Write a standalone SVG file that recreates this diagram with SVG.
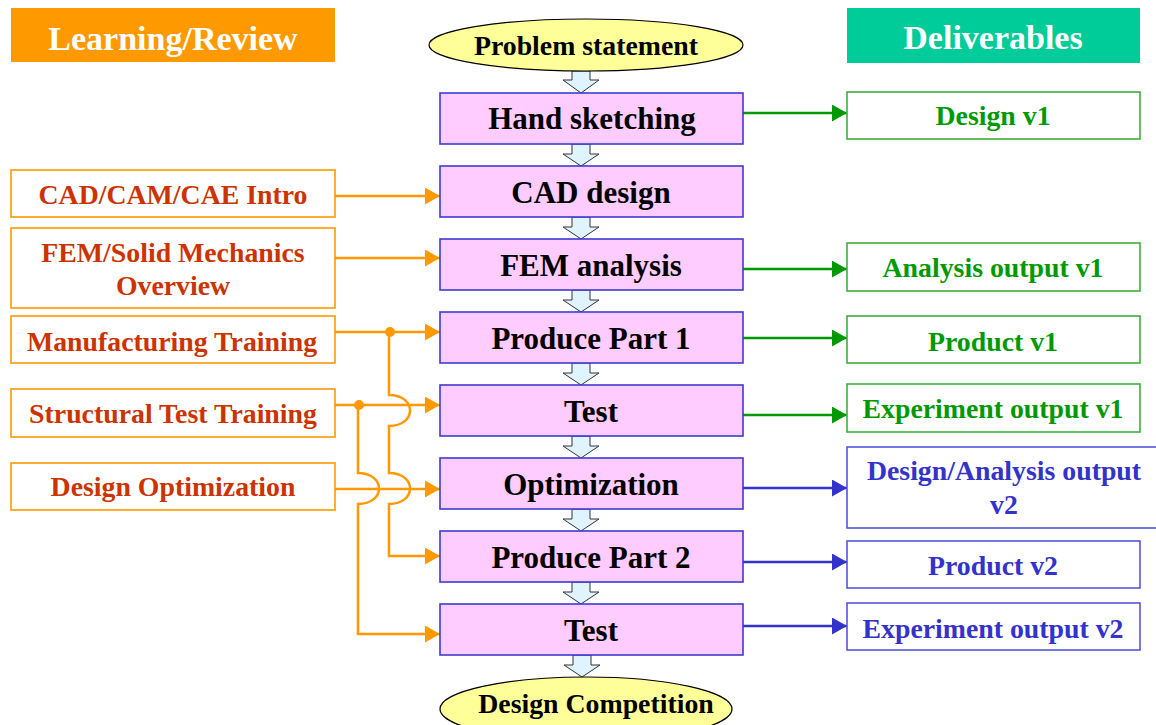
<svg xmlns="http://www.w3.org/2000/svg" width="1156" height="725" viewBox="0 0 1156 725">
<defs>
<style>
text{font-family:"Liberation Serif","Times New Roman",serif;font-weight:bold;text-anchor:middle}
.hdr{font-size:34px;fill:#FFFFFF}
.mid rect{fill:#FFCCFF;stroke:#3B3BD0;stroke-width:1.6}
.mid text{font-size:31px;fill:#000}
.ell ellipse{fill:#FFFF99;stroke:#000;stroke-width:1.2}
.ell text{font-size:27.8px;fill:#000}
.lft rect{fill:#FFF;stroke:#FF9900;stroke-width:1.6}
.lft text{font-size:27.8px;fill:#CC3300}
.gr rect{fill:#FFF;stroke:#3DB03D;stroke-width:1.6}
.gr text{font-size:27.8px;fill:#009900}
.bl rect{fill:#FFF;stroke:#5555DD;stroke-width:1.6}
.bl text{font-size:27.8px;fill:#3333CC}
.blk{fill:#E0F4FF;stroke:#333;stroke-width:1}
.og{fill:none;stroke:#FF9900;stroke-width:2.5}
.gl{fill:none;stroke:#009900;stroke-width:2.5}
.bline{fill:none;stroke:#3333CC;stroke-width:2.5}
</style>
<marker id="ao" markerUnits="userSpaceOnUse" markerWidth="16" markerHeight="18" refX="15" refY="8.5" orient="auto"><path d="M0,0 L15,8.5 L0,17 Z" fill="#FF9900"/></marker>
<marker id="ag" markerUnits="userSpaceOnUse" markerWidth="16" markerHeight="18" refX="15" refY="8.5" orient="auto"><path d="M0,0 L15,8.5 L0,17 Z" fill="#009900"/></marker>
<marker id="ab" markerUnits="userSpaceOnUse" markerWidth="16" markerHeight="18" refX="15" refY="8.5" orient="auto"><path d="M0,0 L15,8.5 L0,17 Z" fill="#3333CC"/></marker>
</defs>

<g id="header-learning"><rect x="11" y="8" width="324" height="54" fill="#FF9900"/><text class="hdr" x="173" y="50">Learning/Review</text></g>
<g id="header-deliverables"><rect x="847" y="8" width="293" height="55" fill="#00CC99"/><text class="hdr" x="993" y="49">Deliverables</text></g>

<g id="connectors">
<g id="flow-arrows">
<path class="blk" d="M572,71 V80 H563 L581,93 L599,80 H590 V71 Z"/>
<path class="blk" d="M572,144 V154 H563 L581,166 L599,154 H590 V144 Z"/>
<path class="blk" d="M572,217 V227 H563 L581,239 L599,227 H590 V217 Z"/>
<path class="blk" d="M572,290 V300 H563 L581,312 L599,300 H590 V290 Z"/>
<path class="blk" d="M572,363 V373 H563 L581,385 L599,373 H590 V363 Z"/>
<path class="blk" d="M572,436 V446 H563 L581,458 L599,446 H590 V436 Z"/>
<path class="blk" d="M572,509 V519 H563 L581,531 L599,519 H590 V509 Z"/>
<path class="blk" d="M572,582 V592 H563 L581,604 L599,592 H590 V582 Z"/>
<path class="blk" d="M573,655 V665 H564 L582,677 L600,665 H591 V655 Z"/>
</g>
<g id="learning-links">
<path class="og" d="M335,196 H440" marker-end="url(#ao)"/>
<path class="og" d="M335,258 H440" marker-end="url(#ao)"/>
<path class="og" d="M335,332 H440" marker-end="url(#ao)"/>
<path class="og" d="M335,405 H440" marker-end="url(#ao)"/>
<path class="og" d="M335,489 H440" marker-end="url(#ao)"/>
<path class="og" d="M389,332 V395 C417,395 417,426 389,426 V473 C417,473 417,504 389,504 V556 H440" marker-end="url(#ao)"/>
<path class="og" d="M358,405 V473 C386,473 386,504 358,504 V634 H440" marker-end="url(#ao)"/>
<circle cx="390" cy="332" r="5" fill="#FF9900"/>
<circle cx="359" cy="405" r="5" fill="#FF9900"/>
</g>
<g id="deliverable-links">
<path class="gl" d="M743,113 H847" marker-end="url(#ag)"/>
<path class="gl" d="M743,269 H847" marker-end="url(#ag)"/>
<path class="gl" d="M743,338 H847" marker-end="url(#ag)"/>
<path class="gl" d="M743,415 H847" marker-end="url(#ag)"/>
<path class="bline" d="M743,488 H847" marker-end="url(#ab)"/>
<path class="bline" d="M743,562 H847" marker-end="url(#ab)"/>
<path class="bline" d="M743,626 H847" marker-end="url(#ab)"/>
</g>
</g>

<g id="problem-statement" class="ell"><ellipse cx="586" cy="45" rx="157" ry="26"/><text x="586" y="55">Problem statement</text></g>
<g id="hand-sketching" class="mid"><rect x="440" y="93" width="303" height="51"/><text x="592" y="129">Hand sketching</text></g>
<g id="cad-design" class="mid"><rect x="440" y="166" width="303" height="51"/><text x="591" y="203">CAD design</text></g>
<g id="fem-analysis" class="mid"><rect x="440" y="239" width="303" height="51"/><text x="591" y="276">FEM analysis</text></g>
<g id="produce-part-1" class="mid"><rect x="440" y="312" width="303" height="51"/><text x="591" y="349">Produce Part 1</text></g>
<g id="test-1" class="mid"><rect x="440" y="385" width="303" height="51"/><text x="591" y="422">Test</text></g>
<g id="optimization" class="mid"><rect x="440" y="458" width="303" height="51"/><text x="591" y="495">Optimization</text></g>
<g id="produce-part-2" class="mid"><rect x="440" y="531" width="303" height="51"/><text x="591" y="568">Produce Part 2</text></g>
<g id="test-2" class="mid"><rect x="440" y="604" width="303" height="51"/><text x="591" y="641">Test</text></g>
<g id="design-competition" class="ell"><ellipse cx="586" cy="709" rx="146" ry="32"/><text x="596" y="713">Design Competition</text></g>

<g id="cad-intro" class="lft"><rect x="11" y="170" width="324" height="47"/><text x="173" y="204">CAD/CAM/CAE Intro</text></g>
<g id="fem-overview" class="lft"><rect x="11" y="228" width="324" height="80"/><text x="173" y="262">FEM/Solid Mechanics</text><text x="173" y="295">Overview</text></g>
<g id="manufacturing-training" class="lft"><rect x="11" y="316" width="324" height="47"/><text x="172" y="351">Manufacturing Training</text></g>
<g id="structural-test-training" class="lft"><rect x="11" y="389" width="324" height="48"/><text x="173" y="423">Structural Test Training</text></g>
<g id="design-optimization" class="lft"><rect x="11" y="463" width="324" height="47"/><text x="173" y="496">Design Optimization</text></g>

<g id="design-v1" class="gr"><rect x="847" y="92" width="293" height="47"/><text x="993" y="125">Design v1</text></g>
<g id="analysis-output-v1" class="gr"><rect x="847" y="243" width="293" height="48"/><text x="993" y="277">Analysis output v1</text></g>
<g id="product-v1" class="gr"><rect x="847" y="316" width="293" height="47"/><text x="993" y="351">Product v1</text></g>
<g id="experiment-output-v1" class="gr"><rect x="847" y="384" width="293" height="48"/><text x="993" y="418">Experiment output v1</text></g>
<g id="design-analysis-output-v2" class="bl"><rect x="847" y="447" width="311" height="81"/><text x="1004" y="480">Design/Analysis output</text><text x="1004" y="514">v2</text></g>
<g id="product-v2" class="bl"><rect x="847" y="541" width="293" height="47"/><text x="993" y="575">Product v2</text></g>
<g id="experiment-output-v2" class="bl"><rect x="847" y="603" width="293" height="47"/><text x="993" y="638">Experiment output v2</text></g>
</svg>
